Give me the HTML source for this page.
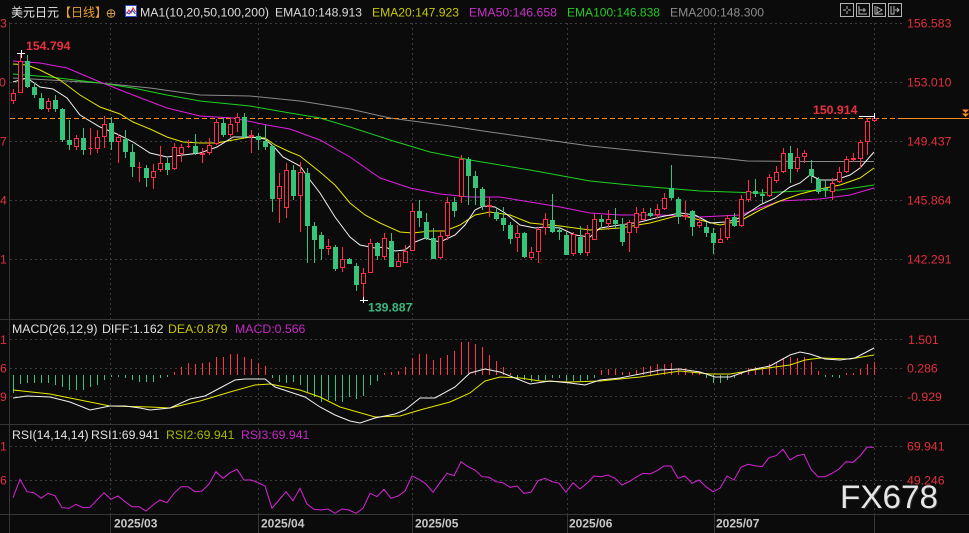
<!DOCTYPE html>
<html><head><meta charset="utf-8"><style>
html,body{margin:0;padding:0;background:#0b0b0b;}
svg{display:block;}
text{font-family:"Liberation Sans","Noto Sans CJK SC",sans-serif;}
</style></head><body>
<svg width="969" height="533" viewBox="0 0 969 533" xmlns="http://www.w3.org/2000/svg">
<rect width="969" height="533" fill="#0b0b0b"/>

<g stroke="#3c3c3c" stroke-width="1" stroke-dasharray="2 3" fill="none">
<path d="M10 23.5H903M10 82.5H903M10 141.5H903M10 200.5H903M10 259.5H903"/>
<path d="M10 339.5H903M10 368.5H903M10 396.5H903"/>
<path d="M10 446.5H903M10 480.5H903"/>
<path d="M110.5 23V514M258.5 23V514M412.5 23V514M567.5 23V514M714.5 23V514M874.5 23V514"/>
</g>
<g stroke="#363636" stroke-width="1" fill="none">
<path d="M0 319.5H969M0 424.5H969M0 514.5H969M9.5 22V533"/>
<path d="M110.5 514V533M258.5 514V533M412.5 514V533M567.5 514V533M714.5 514V533M874.5 514V533"/>
</g>

<!-- header -->
<text x="11" y="16.5" font-size="12" fill="#e8e8e8" font-family="'Liberation Sans','Noto Sans CJK SC',sans-serif">美元日元</text>
<text x="59" y="16.5" font-size="12" fill="#e8a030" font-family="'Liberation Sans','Noto Sans CJK SC',sans-serif">【日线】</text>
<g stroke="#d09a48" stroke-width="1" fill="none"><circle cx="111" cy="13.5" r="3.8"/><path d="M107 13.5H115M111 9.5V17.5"/></g>
<rect x="125.5" y="5.5" width="11" height="11" fill="#f4f4f4" stroke="#3050d0"/>
<path d="M126.5 14L129 10L131 13L133 8L135.5 12" stroke="#e02020" fill="none"/>
<path d="M126.5 12L129 14L132 10L135.5 14" stroke="#2040e0" fill="none"/>
<g font-size="12.3">
<text x="140" y="16.5" fill="#dcdcdc" textLength="129" lengthAdjust="spacingAndGlyphs">MA1(10,20,50,100,200)</text>
<text x="275" y="16.5" fill="#dcdcdc" textLength="87" lengthAdjust="spacingAndGlyphs">EMA10:148.913</text>
<text x="372" y="16.5" fill="#c8c800" textLength="87" lengthAdjust="spacingAndGlyphs">EMA20:147.923</text>
<text x="469" y="16.5" fill="#c830c8" textLength="88" lengthAdjust="spacingAndGlyphs">EMA50:146.658</text>
<text x="567" y="16.5" fill="#28c828" textLength="93" lengthAdjust="spacingAndGlyphs">EMA100:146.838</text>
<text x="670" y="16.5" fill="#8c8c8c" textLength="94" lengthAdjust="spacingAndGlyphs">EMA200:148.300</text>
</g>
<g stroke="#b4b4b4" stroke-width="1" fill="none">
<rect x="840.5" y="3.5" width="13" height="13"/>
<rect x="856.5" y="3.5" width="13" height="13"/>
<rect x="872.5" y="3.5" width="13" height="13"/>
<rect x="888.5" y="3.5" width="13" height="13"/>
<path d="M847 6V9M847 11V14M843 10H846M848 10H851"/>
<path d="M859 6V14H867M859 10H866M864 8V12"/>
<path d="M875 6V14H883M877 7L882 10L877 13Z"/>
<path d="M891 6V14H894V6M895 10H899M897 8L899 10L897 12"/>
</g>

<!-- right axis labels -->
<g font-size="12.3" fill="#e0303f">
<text x="907" y="27.5">156.583</text>
<text x="907" y="86.5">153.010</text>
<text x="907" y="145.5">149.437</text>
<text x="907" y="204.5">145.864</text>
<text x="907" y="263.5">142.291</text>
<text x="908" y="344">1.501</text>
<text x="907" y="372.5">0.286</text>
<text x="907" y="401">-0.929</text>
<text x="907" y="450.5">69.941</text>
<text x="907" y="484.5">49.246</text>
<text x="0" y="27.5">3</text>
<text x="-1" y="86.5">0</text>
<text x="0" y="145.5">7</text>
<text x="0" y="204.5">4</text>
<text x="0" y="263.5">1</text>
<text x="0" y="344">1</text>
<text x="0" y="372.5">6</text>
<text x="0" y="401">9</text>
<text x="0" y="450.5">1</text>
<text x="0" y="484.5">6</text>
</g>

<!-- MA lines -->
<g fill="none" stroke-width="1">
<polyline stroke="#8a8a8a" points="13,78 50,80 100,83 150,88 200,95 250,96 300,101 350,109 390,118 450,126 490,132 540,139 590,146 640,151 680,155 720,158 747,161 800,161.5 874,161.5"/>
<polyline stroke="#20d020" points="13,74 50,77 100,83 133,88 167,95 200,101 250,106 290,113 320,118 350,127 390,140 430,152 470,160 530,170 590,181 640,186 700,191 760,193 800,191 840,190 874,185"/>
<polyline stroke="#e020e0" points="13,61 40,63 67,68 100,82 133,95 167,108 200,116 233,118 267,125 290,129 320,140 350,157 380,178 410,188 440,194 470,197 500,197 530,202 560,207 590,213 620,215 660,215 700,217 740,215 760,208 780,201 820,199 850,195 874,188"/>
<polyline stroke="#e6e600" points="13,64 27,65 40,70 60,80 80,95 100,107 120,114 133,122 150,129 167,137 183,142 200,143 217,143 233,140 250,137 265,138 275,145 290,152 300,156 320,172 335,185 350,203 365,215 380,223 400,232 413,233 430,231 445,231 460,225 475,215 490,212 510,215 530,223 560,226 590,230 620,228 650,223 680,215 700,220 720,225 740,221 760,210 780,201 800,194 820,189 840,185 860,178 874,168"/>
<polyline stroke="#f2f2f2" points="13,82 27,78 40,87 53,89 67,98 80,115 100,127 117,134 133,142 150,153 167,157 183,155 200,153 217,147 233,137 250,137 265,139 275,148 283,157 300,166 310,180 320,193 335,217 350,237 360,245 375,248 385,247 395,251 405,250 415,242 425,238 440,242 455,235 465,225 475,210 483,206 495,207 505,213 520,225 535,228 545,227 560,228 575,235 590,237 600,228 620,225 640,222 660,217 680,213 695,215 710,223 725,222 735,220 745,215 760,205 775,198 790,187 800,183 810,175 820,180 835,180 850,175 860,168 874,152"/>
</g>

<!-- current price line -->
<path d="M10 118.5H903" stroke="#ff8c1e" stroke-width="1" stroke-dasharray="5 3"/>
<path d="M903 118.5H969" stroke="#ff8c1e" stroke-width="1"/>
<path d="M962 109.5H969L965.5 113Z M962 113.5H969L965.5 117Z" fill="#ff8c1e"/>

<!-- candles -->
<path stroke="#ff2e4a" stroke-width="1" fill="none" d="M13.5 89V104M20.5 53V93M48.5 98V112M76.5 135V150M90.5 128V155M97.5 130V153M104.5 116V148M118.5 134V163M139.5 162V182M153.5 164V189M160.5 146V172M174.5 143V170M181.5 144V162M188.5 140V148M202.5 148V163M209.5 138V155M216.5 119V145M230.5 118V137M237.5 113V132M251.5 130V153M279.5 173V223M286.5 163V218M300.5 162V232M328.5 239V255M342.5 247V272M363.5 268V300M370.5 239V273M384.5 233V260M398.5 253V267M405.5 245V263M412.5 203V251M440.5 231V259M447.5 197V240M461.5 155V203M489.5 197V217M517.5 225V252M531.5 247V260M538.5 227V263M545.5 213V235M573.5 232V256M587.5 225V256M594.5 214V240M608.5 210V230M629.5 220V252M636.5 207V233M643.5 208V221M657.5 204V218M664.5 193V210M685.5 201V220M699.5 217V228M720.5 228V243M727.5 215V240M741.5 195V227M748.5 180V202M769.5 174V197M776.5 166V183M783.5 148V173M797.5 148V172M804.5 150V163M832.5 178V200M839.5 167V183M846.5 156V173M853.5 153V162M860.5 140V168M867.5 118V155M874.5 116V122"/>
<path stroke="#ff2e4a" stroke-width="1" fill="#0b0b0b" d="M11.5 93.5h4v7h-4zM18.5 61.5h4v31h-4zM46.5 101.5h4v7h-4zM74.5 138.5h4v8h-4zM88.5 148.5h4v0h-4zM95.5 137.5h4v11h-4zM102.5 124.5h4v12h-4zM116.5 137.5h4v4h-4zM137.5 167.5h4v0h-4zM151.5 171.5h4v6h-4zM158.5 163.5h4v6h-4zM172.5 147.5h4v21h-4zM179.5 147.5h4v6h-4zM186.5 146.5h4v0h-4zM200.5 153.5h4v1h-4zM207.5 145.5h4v7h-4zM214.5 122.5h4v21h-4zM228.5 124.5h4v10h-4zM235.5 117.5h4v5h-4zM249.5 135.5h4v1h-4zM277.5 186.5h4v12h-4zM284.5 170.5h4v37h-4zM298.5 172.5h4v23h-4zM326.5 246.5h4v2h-4zM340.5 259.5h4v8h-4zM361.5 273.5h4v10h-4zM368.5 243.5h4v29h-4zM382.5 238.5h4v18h-4zM396.5 261.5h4v5h-4zM403.5 251.5h4v11h-4zM410.5 211.5h4v39h-4zM438.5 236.5h4v21h-4zM445.5 202.5h4v33h-4zM459.5 159.5h4v37h-4zM487.5 205.5h4v1h-4zM515.5 233.5h4v4h-4zM529.5 252.5h4v5h-4zM536.5 229.5h4v22h-4zM543.5 219.5h4v8h-4zM571.5 234.5h4v19h-4zM585.5 233.5h4v19h-4zM592.5 219.5h4v20h-4zM606.5 219.5h4v4h-4zM627.5 222.5h4v10h-4zM634.5 213.5h4v14h-4zM641.5 212.5h4v7h-4zM655.5 209.5h4v5h-4zM662.5 198.5h4v10h-4zM683.5 215.5h4v1h-4zM697.5 222.5h4v3h-4zM718.5 239.5h4v3h-4zM725.5 218.5h4v19h-4zM739.5 199.5h4v26h-4zM746.5 191.5h4v8h-4zM767.5 177.5h4v18h-4zM774.5 172.5h4v8h-4zM781.5 153.5h4v18h-4zM795.5 157.5h4v11h-4zM802.5 153.5h4v3h-4zM830.5 183.5h4v8h-4zM837.5 172.5h4v9h-4zM844.5 159.5h4v12h-4zM851.5 158.5h4v1h-4zM858.5 142.5h4v16h-4zM865.5 121.5h4v20h-4zM872.5 118.5h4v2h-4z"/>
<path stroke="#35c47a" stroke-width="1" fill="none" d="M27.5 55V88M34.5 83V98M41.5 93V110M55.5 95V112M62.5 108V142M69.5 120V150M83.5 128V155M111.5 117V150M125.5 130V158M132.5 144V177M146.5 165V187M167.5 158V175M195.5 134V155M223.5 118V137M244.5 113V138M258.5 133V150M265.5 125V150M272.5 145V212M293.5 165V200M307.5 168V263M314.5 222V263M321.5 232V260M335.5 245V271M349.5 258V264M356.5 263V291M377.5 242V260M391.5 233V267M419.5 200V227M426.5 213V240M433.5 228V259M454.5 197V217M468.5 157V205M475.5 171V205M482.5 187V210M496.5 207V221M503.5 207V231M510.5 222V244M524.5 232V258M552.5 194V233M559.5 227V240M566.5 232V255M580.5 226V255M601.5 215V228M615.5 208V228M622.5 218V246M650.5 208V217M671.5 165V200M678.5 197V224M692.5 210V236M706.5 222V237M713.5 228V254M734.5 213V227M755.5 179V197M762.5 189V203M790.5 146V183M811.5 160V183M818.5 177V194M825.5 180V197"/>
<path fill="#35c47a" d="M25 61h5v26h-5zM32 87h5v8h-5zM39 98h5v11h-5zM53 100h5v9h-5zM60 109h5v31h-5zM67 140h5v5h-5zM81 138h5v12h-5zM109 123h5v19h-5zM123 139h5v13h-5zM130 152h5v15h-5zM144 168h5v10h-5zM165 163h5v7h-5zM193 146h5v7h-5zM221 123h5v12h-5zM242 117h5v20h-5zM256 136h5v4h-5zM263 141h5v6h-5zM270 146h5v53h-5zM291 170h5v26h-5zM305 173h5v53h-5zM312 226h5v14h-5zM319 235h5v14h-5zM333 247h5v22h-5zM347 259h5v5h-5zM354 266h5v19h-5zM375 243h5v13h-5zM389 241h5v26h-5zM417 211h5v7h-5zM424 222h5v16h-5zM431 238h5v21h-5zM452 202h5v9h-5zM466 159h5v17h-5zM473 176h5v12h-5zM480 189h5v17h-5zM494 212h5v7h-5zM501 218h5v7h-5zM508 225h5v14h-5zM522 233h5v24h-5zM550 220h5v12h-5zM557 230h5v2h-5zM564 235h5v20h-5zM578 237h5v16h-5zM599 219h5v3h-5zM613 220h5v4h-5zM620 224h5v18h-5zM648 213h5v3h-5zM669 188h5v10h-5zM676 199h5v18h-5zM690 211h5v16h-5zM704 227h5v6h-5zM711 233h5v10h-5zM732 217h5v9h-5zM753 191h5v3h-5zM760 194h5v2h-5zM788 153h5v16h-5zM809 169h5v7h-5zM816 179h5v13h-5zM823 188h5v2h-5z"/>

<!-- markers -->
<path stroke="#ffffff" stroke-width="1" fill="none" d="M17 53.5H25M21.5 50V58M360 300.5H368M363.5 297V303M859 116.5H875M874.5 113V119"/>
<g font-size="12.3" font-weight="bold">
<text x="26" y="50" fill="#e8303f">154.794</text>
<text x="813" y="114" fill="#e8303f">150.914</text>
<text x="368" y="311.5" fill="#3ab87c">139.887</text>
</g>

<!-- MACD -->
<g font-size="12.3">
<text x="12" y="333" fill="#e0e0e0">MACD(26,12,9)</text>
<text x="102" y="333" fill="#e0e0e0">DIFF:1.162</text>
<text x="168" y="333" fill="#c8c800">DEA:0.879</text>
<text x="235" y="333" fill="#c828c8">MACD:0.566</text>
</g>
<path stroke="#ff3448" stroke-width="1" fill="none" d="M174.5 375V372M181.5 375V367M188.5 375V363M195.5 375V364M202.5 375V363M209.5 375V362M216.5 375V357M223.5 375V357M230.5 375V354M237.5 375V354M244.5 375V357M251.5 375V359M258.5 375V363M265.5 375V366M384.5 375V373M391.5 375V372M398.5 375V371M405.5 375V367M412.5 375V358M419.5 375V354M426.5 375V354M433.5 375V360M440.5 375V358M447.5 375V355M454.5 375V351M461.5 375V342M468.5 375V342M475.5 375V344M482.5 375V347M489.5 375V355M496.5 375V361M503.5 375V367M510.5 375V373M601.5 375V370M608.5 375V369M615.5 375V369M622.5 375V372M629.5 375V372M636.5 375V370M643.5 375V367M650.5 375V366M657.5 375V364M664.5 375V364M671.5 375V363M678.5 375V368M685.5 375V368M692.5 375V372M699.5 375V373M741.5 375V372M748.5 375V368M755.5 375V367M762.5 375V367M769.5 375V364M776.5 375V362M783.5 375V358M790.5 375V357M797.5 375V358M804.5 375V357M811.5 375V362M818.5 375V371M846.5 375V373M853.5 375V373M860.5 375V369M867.5 375V364M874.5 375V362"/>
<path stroke="#35c47a" stroke-width="1" fill="none" d="M13.5 375V393M20.5 375V384M27.5 375V383M34.5 375V383M41.5 375V383M48.5 375V383M55.5 375V385M62.5 375V387M69.5 375V390M76.5 375V390M83.5 375V390M90.5 375V387M97.5 375V385M104.5 375V380M111.5 375V377M118.5 375V377M125.5 375V378M132.5 375V380M139.5 375V382M146.5 375V382M153.5 375V382M160.5 375V378M167.5 375V377M272.5 375V378M279.5 375V382M286.5 375V383M293.5 375V382M300.5 375V385M307.5 375V392M314.5 375V397M321.5 375V402M328.5 375V400M335.5 375V401M342.5 375V402M349.5 375V397M356.5 375V399M363.5 375V396M370.5 375V385M377.5 375V381M517.5 375V380M524.5 375V380M531.5 375V382M538.5 375V380M545.5 375V380M552.5 375V378M559.5 375V378M566.5 375V381M573.5 375V381M580.5 375V381M587.5 375V380M594.5 375V378M706.5 375V378M713.5 375V383M720.5 375V383M727.5 375V380M734.5 375V378M825.5 375V377M832.5 375V377M839.5 375V378"/>
<g fill="none" stroke-width="1">
<polyline stroke="#e6e600" points="13,390 50,394 90,402 110,406 150,407 170,408 200,401 230,392 255,385 270,384 300,390 320,397 340,407 375,417 400,416 420,410 450,402 470,393 485,381 500,377 520,378 540,381 570,382 600,381 640,377 680,371 710,374 730,374 760,369 790,365 805,360 820,358 850,359 874,355"/>
<polyline stroke="#f2f2f2" points="13,398 27,396 50,397 70,402 90,410 110,406 125,406 140,408 150,410 170,408 190,399 205,396 220,388 235,380 245,379 265,379 275,387 290,392 305,397 320,407 335,415 350,421 360,423 375,418 395,414 405,410 420,398 435,398 455,387 470,373 485,369 500,372 515,378 530,384 550,381 570,383 585,385 600,380 620,378 640,374 660,370 680,369 700,372 715,377 730,377 750,370 770,366 790,355 800,352 810,354 825,359 840,360 855,358 874,348"/>
</g>

<!-- RSI -->
<g font-size="12.3">
<text x="12" y="439" fill="#e0e0e0">RSI(14,14,14)</text>
<text x="91" y="439" fill="#e0e0e0">RSI1:69.941</text>
<text x="166" y="439" fill="#a8b800">RSI2:69.941</text>
<text x="241" y="439" fill="#c828c8">RSI3:69.941</text>
</g>
<polyline fill="none" stroke="#d824d8" stroke-width="1" points="13,497.7 20,479.3 27,491.7 34,492.7 41,498.3 48,493.3 55,495.7 62,507.7 69,508.3 76,504.3 83,507.7 90,507.3 97,500 104,492.7 111,499.3 118,496 125,501.7 132,506.7 139,506.7 146,511 153,505 160,500 167,502.7 174,493.3 181,486.7 188,486.7 195,491.7 202,491 209,484 216,471.7 223,478.3 230,472.7 237,469.3 244,480 251,480 258,482.7 265,486 272,508.3 279,500 286,491.7 293,500.7 300,488.3 307,504 314,509.3 321,510 328,509 335,513.3 342,509 349,510 356,513.3 363,508.3 370,493.3 377,496.7 384,489.3 391,498.3 398,496 405,491 412,476 419,479.3 426,484 433,492.3 440,482.7 447,473.3 454,475.7 461,461.7 468,466.7 475,470 482,476.7 489,477.3 496,481.7 503,482.7 510,487.3 517,486 524,493.3 531,492.3 538,480.7 545,478.3 552,481.7 559,483.3 566,492.3 573,482.7 580,489 587,483.3 594,476 601,476.7 608,475 615,478.3 622,485 629,481.7 636,477.3 643,473.3 650,474 657,470.7 664,466 671,466 678,478.3 685,476 692,483.3 699,480 706,486.7 713,491.7 720,488.3 727,476 734,480 741,467.3 748,464.3 755,465.7 762,466.7 769,457.7 776,455.7 783,449.3 790,460 797,455.7 804,454.3 811,469.3 818,476.7 825,476.7 832,473.3 839,469 846,461.7 853,462.3 860,456 867,447.3 874,447.3"/>

<!-- dates -->
<g font-size="12" font-weight="bold" fill="#c8c8c8">
<text x="114" y="527.5">2025/03</text>
<text x="261" y="527.5">2025/04</text>
<text x="415" y="527.5">2025/05</text>
<text x="569" y="527.5">2025/06</text>
<text x="716" y="527.5">2025/07</text>
</g>

<!-- watermark -->
<text x="841" y="509" font-size="32" fill="#2a2a2a" textLength="98" lengthAdjust="spacingAndGlyphs">FX678</text>
<text x="840" y="508" font-size="32" fill="#e6e6e6" textLength="98" lengthAdjust="spacingAndGlyphs">FX678</text>
</svg>
</body></html>
